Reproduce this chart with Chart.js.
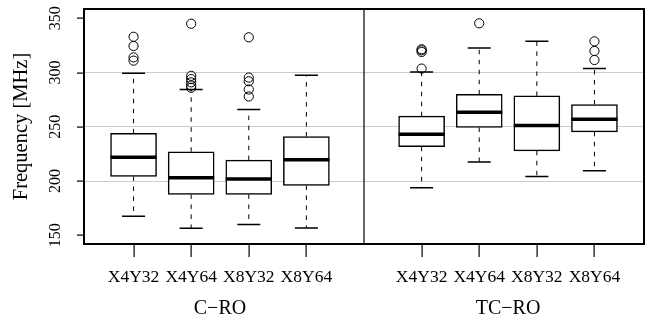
<!DOCTYPE html>
<html>
<head>
<meta charset="utf-8">
<script src="https://cdn.jsdelivr.net/npm/chart.js@4/dist/chart.umd.min.js"></script>
<style>
  body { margin: 0; background: #fff; }
  #wrap { width: 654px; height: 324px; }
</style>
</head>
<body>
<div id="wrap"><canvas id="chart" width="654" height="324"></canvas></div>
<script>
// box positions follow R's at = c(1:4, 6:9), with the gap at 5
const categories = ['X4Y32', 'X4Y64', 'X8Y32', 'X8Y64', 'X4Y32', 'X4Y64', 'X8Y32', 'X8Y64'];
const positions = [1, 2, 3, 4, 6, 7, 8, 9];
const groupNames = ['C\u2212RO', 'TC\u2212RO'];
const groupCenters = [2.5, 7.5];
const dividerAt = 5;

const lowerWhisker = [167.5, 156.5, 160, 156.8, 193.8, 217.5, 204.3, 209.5];
const q1 = [204.3, 187.7, 187.7, 196, 231.6, 249.4, 227.9, 245.4];
const median = [222, 203, 201.8, 219.6, 243.2, 263.5, 251.2, 257];
const q3 = [244, 227, 219.3, 241, 259.8, 280, 278.5, 270.6];
const upperWhisker = [299.4, 284.4, 266, 297.5, 300.6, 322.6, 328.8, 303.7];
const outliers = [
  [311, 314, 324.5, 333],
  [286, 288, 291, 294, 297, 345],
  [278, 284.4, 292, 295.4, 332.5],
  [],
  [303.7, 319, 320.5, 321.5],
  [345.4],
  [],
  [311.6, 319.9, 328.8]
];
const yTicks = [150, 200, 250, 300, 350];
const gridValues = [200, 250, 300];

const SERIF = '"Liberation Serif", "Times New Roman", serif';

const boxData = positions.map((p, i) => ({ x: p, y: [q1[i], q3[i]] }));
const outlierData = [];
positions.forEach((p, i) => outliers[i].forEach(v => outlierData.push({ x: p, y: v })));

// whiskers, caps, medians, frame, divider and extra text
const boxExtras = {
  id: 'boxExtras',
  afterDatasetsDraw(chart) {
    const { ctx, chartArea, scales: { x, y } } = chart;
    const unit = x.getPixelForValue(1) - x.getPixelForValue(0);
    const boxHalf = unit * 0.4;
    const capHalf = unit * 0.2;
    ctx.save();
    positions.forEach((p, i) => {
      const cx = x.getPixelForValue(p);
      // dashed whiskers
      ctx.strokeStyle = '#000';
      ctx.lineWidth = 1;
      ctx.setLineDash([4.5, 5.5]);
      ctx.beginPath();
      ctx.moveTo(cx, y.getPixelForValue(q3[i]));
      ctx.lineTo(cx, y.getPixelForValue(upperWhisker[i]));
      ctx.moveTo(cx, y.getPixelForValue(q1[i]));
      ctx.lineTo(cx, y.getPixelForValue(lowerWhisker[i]));
      ctx.stroke();
      ctx.setLineDash([]);
      // caps
      ctx.lineWidth = 1.5;
      ctx.beginPath();
      [upperWhisker[i], lowerWhisker[i]].forEach(v => {
        const py = y.getPixelForValue(v);
        ctx.moveTo(cx - capHalf, py);
        ctx.lineTo(cx + capHalf, py);
      });
      ctx.stroke();
      // median
      ctx.lineWidth = 3.5;
      ctx.beginPath();
      const my = y.getPixelForValue(median[i]);
      ctx.moveTo(cx - boxHalf, my);
      ctx.lineTo(cx + boxHalf, my);
      ctx.stroke();
    });
    // divider between the two groups
    const dx = x.getPixelForValue(dividerAt);
    ctx.lineWidth = 1.2;
    ctx.beginPath();
    ctx.moveTo(dx, chartArea.top);
    ctx.lineTo(dx, chartArea.bottom);
    ctx.stroke();
    // frame
    ctx.lineWidth = 2;
    ctx.strokeRect(chartArea.left, chartArea.top, chartArea.right - chartArea.left, chartArea.bottom - chartArea.top);
    ctx.restore();
  },
  afterDraw(chart) {
    const { ctx, scales: { x, y } } = chart;
    const area = chart.chartArea;
    ctx.save();
    ctx.fillStyle = '#000';
    // x tick marks below the frame
    positions.forEach(p => {
      const px = Math.round(x.getPixelForValue(p));
      ctx.fillRect(px - 0.5, area.bottom, 1.2, 13);
    });
    // y tick marks left of the frame
    y.ticks.forEach(t => {
      const py = Math.round(y.getPixelForValue(t.value));
      ctx.fillRect(area.left - 7, py - 0.5, 7, 1.2);
    });
    // rotated y tick labels, as R draws them
    ctx.font = '16px ' + SERIF;
    ctx.textAlign = 'center';
    ctx.textBaseline = 'middle';
    y.ticks.forEach(t => {
      ctx.save();
      ctx.translate(56, y.getPixelForValue(t.value));
      ctx.rotate(-Math.PI / 2);
      ctx.fillText(String(t.value), 0, 0);
      ctx.restore();
    });
    // group labels under the tick labels
    ctx.font = '20px ' + SERIF;
    groupNames.forEach((g, i) => {
      ctx.fillText(g, x.getPixelForValue(groupCenters[i]), 309);
    });
    ctx.restore();
  }
};

new Chart(document.getElementById('chart').getContext('2d'), {
  type: 'bar',
  data: {
    datasets: [
      {
        type: 'bar',
        data: boxData,
        backgroundColor: '#fff',
        borderColor: '#000',
        borderWidth: 1.5,
        borderSkipped: false,
        barThickness: 46,
        order: 2
      },
      {
        type: 'scatter',
        data: outlierData,
        showLine: false,
        pointStyle: 'circle',
        pointRadius: 4.6,
        pointBorderWidth: 1,
        pointBackgroundColor: 'rgba(0,0,0,0)',
        pointBorderColor: '#000',
        order: 1
      }
    ]
  },
  options: {
    responsive: false,
    animation: false,
    devicePixelRatio: 1,
    layout: { padding: { top: 9, right: 10, left: 0, bottom: 0 } },
    plugins: { legend: { display: false }, tooltip: { enabled: false } },
    scales: {
      x: {
        type: 'linear',
        min: 0.14,
        max: 9.86,
        offset: false,
        afterBuildTicks: s => { s.ticks = positions.map(v => ({ value: v })); },
        afterFit: s => { s.height = 80; },
        ticks: {
          autoSkip: false,
          maxRotation: 0,
          minRotation: 0,
          padding: 23,
          color: '#000',
          font: { family: SERIF, size: 17.5 },
          callback: (v, i) => categories[i]
        },
        grid: {
          offset: false,
          drawOnChartArea: false,
          drawTicks: false
        },
        border: { display: false }
      },
      y: {
        type: 'linear',
        min: 142,
        max: 358.6,
        afterBuildTicks: s => { s.ticks = yTicks.map(v => ({ value: v })); },
        afterFit: s => { s.width = 84; },
        ticks: { display: false },
        grid: {
          color: c => gridValues.includes(c.tick && c.tick.value) ? '#cccccc' : 'rgba(0,0,0,0)',
          drawTicks: false
        },
        border: { display: false },
        title: {
          display: true,
          text: 'Frequency [MHz]',
          color: '#000',
          font: { family: SERIF, size: 20.5 },
          padding: { top: 9.5, bottom: 0 }
        }
      }
    }
  },
  plugins: [boxExtras]
});
</script>
</body>
</html>
